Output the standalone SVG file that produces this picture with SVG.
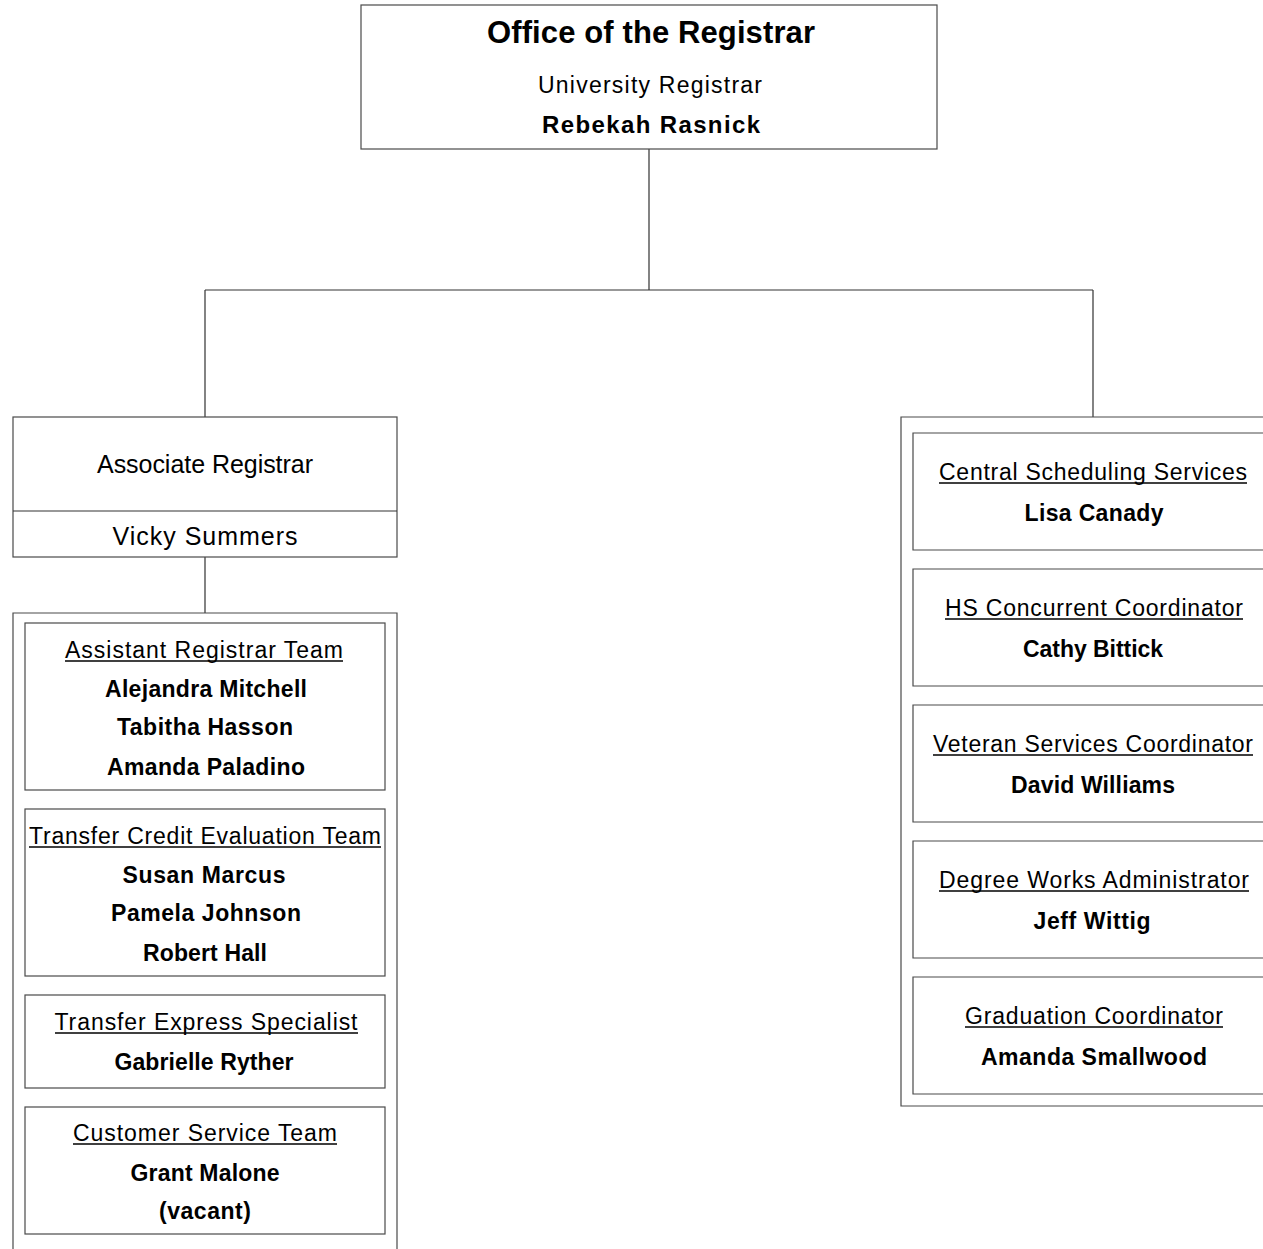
<svg xmlns="http://www.w3.org/2000/svg" width="1263" height="1249" viewBox="0 0 1263 1249">
<style>
.b{fill:#fff;stroke:#4a4a4a;stroke-width:1.2}
.c{fill:none;stroke:#333;stroke-width:1.2}
.ul{stroke:#000;stroke-width:1.5}
text{font-family:"Liberation Sans",Arial,sans-serif;fill:#000;text-anchor:middle}
.t{font-size:31px;font-weight:bold}
.r{font-size:23px}
.u{font-size:23px}
.n{font-size:23px;font-weight:bold}
.a{font-size:25px}
</style>
<rect width="1263" height="1249" fill="#fff"/>
<g id="connectors">
<path class="c" d="M649,149V290M205,290H1093M205,290V417M1093,290V417M205,557V613"/>
</g>
<g id="registrar">
<rect class="b" x="361" y="5" width="576" height="144"/>
<text class="t" x="651" y="43" textLength="328" lengthAdjust="spacing">Office of the Registrar</text>
<text class="r" x="650" y="93" textLength="224" lengthAdjust="spacing">University Registrar</text>
<text class="n" x="651" y="133" style="font-size:24px" textLength="218" lengthAdjust="spacing">Rebekah Rasnick</text>
</g>
<g id="associate">
<rect class="b" x="13" y="417" width="384" height="140"/>
<line class="c" x1="13" y1="511" x2="397" y2="511"/>
<text class="a" x="205" y="473" textLength="216" lengthAdjust="spacing">Associate Registrar</text>
<text class="a" x="205" y="545" textLength="185" lengthAdjust="spacing">Vicky Summers</text>
</g>
<g id="left-group">
<path class="b" d="M13,1249V613H397V1249"/>
</g>
<g id="assistant-team">
<rect class="b" x="25" y="623" width="360" height="167"/>
<text class="u" x="204" y="658" textLength="278" lengthAdjust="spacing">Assistant Registrar Team</text>
<line class="ul" x1="65" y1="661" x2="343" y2="661"/>
<text class="n" x="206" y="697" textLength="202" lengthAdjust="spacing">Alejandra Mitchell</text>
<text class="n" x="205" y="735" textLength="176" lengthAdjust="spacing">Tabitha Hasson</text>
<text class="n" x="206" y="775" textLength="198" lengthAdjust="spacing">Amanda Paladino</text>
</g>
<g id="transfer-credit">
<rect class="b" x="25" y="809" width="360" height="167"/>
<text class="u" x="205" y="844" textLength="352" lengthAdjust="spacing">Transfer Credit Evaluation Team</text>
<line class="ul" x1="29" y1="847" x2="381" y2="847"/>
<text class="n" x="204" y="883" textLength="163" lengthAdjust="spacing">Susan Marcus</text>
<text class="n" x="206" y="921" textLength="190" lengthAdjust="spacing">Pamela Johnson</text>
<text class="n" x="205" y="961" textLength="124" lengthAdjust="spacing">Robert Hall</text>
</g>
<g id="transfer-express">
<rect class="b" x="25" y="995" width="360" height="93"/>
<text class="u" x="206" y="1030" textLength="303" lengthAdjust="spacing">Transfer Express Specialist</text>
<line class="ul" x1="55" y1="1033" x2="358" y2="1033"/>
<text class="n" x="204" y="1070" textLength="179" lengthAdjust="spacing">Gabrielle Ryther</text>
</g>
<g id="customer-service">
<rect class="b" x="25" y="1107" width="360" height="127"/>
<text class="u" x="205" y="1141" textLength="264" lengthAdjust="spacing">Customer Service Team</text>
<line class="ul" x1="73" y1="1144" x2="337" y2="1144"/>
<text class="n" x="205" y="1181" textLength="149" lengthAdjust="spacing">Grant Malone</text>
<text class="n" x="205" y="1219" textLength="92" lengthAdjust="spacing">(vacant)</text>
</g>
<g id="right-group">
<path class="b" d="M1264,417H901V1106H1264"/>
</g>
<g id="central-scheduling">
<path class="b" d="M1264,433H913V550H1264"/>
<text class="u" x="1093" y="480" textLength="308" lengthAdjust="spacing">Central Scheduling Services</text>
<line class="ul" x1="939" y1="483" x2="1247" y2="483"/>
<text class="n" x="1094" y="521" textLength="139" lengthAdjust="spacing">Lisa Canady</text>
</g>
<g id="hs-concurrent">
<path class="b" d="M1264,569H913V686H1264"/>
<text class="u" x="1094" y="616" textLength="298" lengthAdjust="spacing">HS Concurrent Coordinator</text>
<line class="ul" x1="945" y1="619" x2="1243" y2="619"/>
<text class="n" x="1093" y="657" textLength="140" lengthAdjust="spacing">Cathy Bittick</text>
</g>
<g id="veteran-services">
<path class="b" d="M1264,705H913V822H1264"/>
<text class="u" x="1093" y="752" textLength="320" lengthAdjust="spacing">Veteran Services Coordinator</text>
<line class="ul" x1="933" y1="755" x2="1253" y2="755"/>
<text class="n" x="1093" y="793" textLength="164" lengthAdjust="spacing">David Williams</text>
</g>
<g id="degree-works">
<path class="b" d="M1264,841H913V958H1264"/>
<text class="u" x="1094" y="888" textLength="310" lengthAdjust="spacing">Degree Works Administrator</text>
<line class="ul" x1="939" y1="891" x2="1249" y2="891"/>
<text class="n" x="1092" y="929" textLength="117" lengthAdjust="spacing">Jeff Wittig</text>
</g>
<g id="graduation">
<path class="b" d="M1264,977H913V1094H1264"/>
<text class="u" x="1094" y="1024" textLength="258" lengthAdjust="spacing">Graduation Coordinator</text>
<line class="ul" x1="965" y1="1027" x2="1223" y2="1027"/>
<text class="n" x="1094" y="1065" textLength="226" lengthAdjust="spacing">Amanda Smallwood</text>
</g>
</svg>
